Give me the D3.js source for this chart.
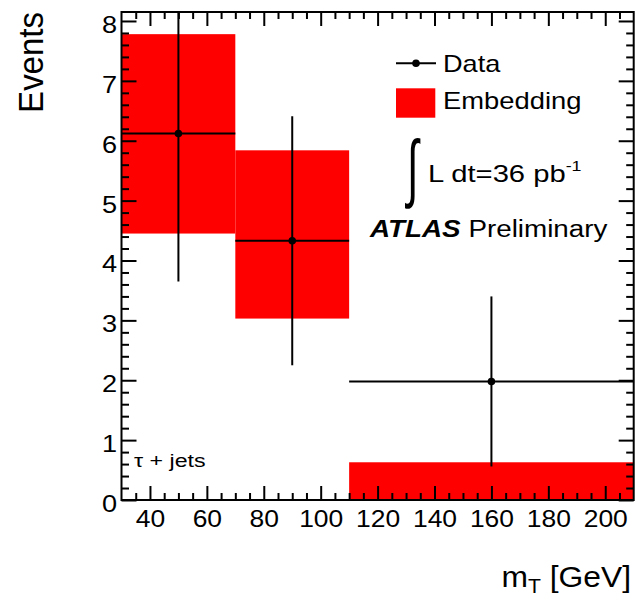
<!DOCTYPE html>
<html>
<head>
<meta charset="utf-8">
<script src="https://cdn.jsdelivr.net/npm/d3@7"></script>
<style>
  html, body { margin: 0; padding: 0; background: #fff; }
  svg { display: block; }
  text { font-family: "Liberation Sans", Arial, Helvetica, sans-serif; fill: #000; }
</style>
</head>
<body>
<svg id="chart" width="638" height="598"></svg>
<script>
// ---- data ----
const binEdges = [30, 70, 110, 210];
const binCenters = [50, 90, 160];
const dataValues = [6.12, 4.33, 1.98];
const dataErrors = [2.47, 2.08, 1.42];
const embLow = [4.45, 3.03, 0.0];
const embHigh = [7.78, 5.84, 0.63];
const xMajorTicks = [40, 60, 80, 100, 120, 140, 160, 180, 200];
const yMajorTicks = [0, 1, 2, 3, 4, 5, 6, 7, 8];
const xDomain = [30, 210];
const yDomain = [0, 8.15];

// ---- layout ----
const svg = d3.select("#chart");
const L = 121.5, R = 633.7, T = 12, B = 500;
const x = d3.scaleLinear().domain(xDomain).range([L, R]);
const y = d3.scaleLinear().domain(yDomain).range([B, T]);

// stretch text horizontally (reference glyphs are wider than Liberation Sans)
function stretch(sel, s) {
  sel.each(function () {
    const t = d3.select(this);
    const tx = +t.attr("x") || 0, ty = +t.attr("y") || 0;
    t.attr("x", 0).attr("y", 0).attr("transform", `translate(${tx},${ty}) scale(${s},1)`);
  });
}

svg.append("defs").append("clipPath").attr("id", "plotclip")
  .append("rect").attr("x", L).attr("y", T).attr("width", R - L).attr("height", B - T);

const plot = svg.append("g").attr("clip-path", "url(#plotclip)");

// Embedding bands
plot.selectAll("rect.emb")
  .data(embLow.map((lo, i) => ({ lo, hi: embHigh[i], x0: binEdges[i], x1: binEdges[i + 1] })))
  .join("rect")
  .attr("class", "emb")
  .attr("x", d => x(d.x0))
  .attr("width", d => x(d.x1) - x(d.x0))
  .attr("y", d => y(d.hi))
  .attr("height", d => y(d.lo) - y(d.hi))
  .attr("fill", "#ff0000");

// Data points with error bars
const pts = dataValues.map((v, i) => ({ v, e: dataErrors[i], c: binCenters[i], x0: binEdges[i], x1: binEdges[i + 1] }));
plot.selectAll("line.xerr").data(pts).join("line")
  .attr("x1", d => x(d.x0)).attr("x2", d => x(d.x1))
  .attr("y1", d => y(d.v)).attr("y2", d => y(d.v))
  .attr("stroke", "#000").attr("stroke-width", 2);
plot.selectAll("line.yerr").data(pts).join("line")
  .attr("x1", d => x(d.c)).attr("x2", d => x(d.c))
  .attr("y1", d => y(d.v - d.e)).attr("y2", d => y(d.v + d.e))
  .attr("stroke", "#000").attr("stroke-width", 2);
plot.selectAll("circle.pt").data(pts).join("circle")
  .attr("cx", d => x(d.c)).attr("cy", d => y(d.v)).attr("r", 3.8)
  .attr("fill", "#000");

// ---- axes ----
const xMinor = d3.range(30, 211, 5).filter(v => v % 20 !== 0 && v > 30 && v < 210);
const yMinor = d3.range(0, 8.15, 0.2).map(v => +v.toFixed(1)).filter(v => Math.abs(v - Math.round(v)) > 1e-6);

function styleAxis(g) {
  g.select(".domain").remove();
  g.selectAll(".tick line").attr("stroke", "#000").attr("stroke-width", 2);
}

// bottom
svg.append("g").attr("transform", `translate(0,${B})`)
  .call(d3.axisBottom(x).tickValues(xMajorTicks).tickSize(-14).tickSizeOuter(0).tickPadding(11).tickFormat(d3.format("d")))
  .call(styleAxis)
  .call(g => g.selectAll("text").attr("font-size", 23).attr("font-family", "Liberation Sans, Arial, sans-serif"))
  .call(g => stretch(g.selectAll("text"), 1.15));
svg.append("g").attr("transform", `translate(0,${B})`)
  .call(d3.axisBottom(x).tickValues(xMinor).tickSize(-7).tickSizeOuter(0).tickFormat(""))
  .call(styleAxis);
// top
svg.append("g").attr("transform", `translate(0,${T})`)
  .call(d3.axisTop(x).tickValues(xMajorTicks).tickSize(-14).tickSizeOuter(0).tickFormat(""))
  .call(styleAxis);
svg.append("g").attr("transform", `translate(0,${T})`)
  .call(d3.axisTop(x).tickValues(xMinor).tickSize(-7).tickSizeOuter(0).tickFormat(""))
  .call(styleAxis);
// left
svg.append("g").attr("transform", `translate(${L},0)`)
  .call(d3.axisLeft(y).tickValues(yMajorTicks).tickSize(-15).tickSizeOuter(0).tickPadding(4.5).tickFormat(d3.format("d")))
  .call(styleAxis)
  .call(g => g.selectAll("text").attr("font-size", 23).attr("dy", "0.5em").attr("font-family", "Liberation Sans, Arial, sans-serif"))
  .call(g => stretch(g.selectAll("text"), 1.18));
svg.append("g").attr("transform", `translate(${L},0)`)
  .call(d3.axisLeft(y).tickValues(yMinor).tickSize(-7.5).tickSizeOuter(0).tickFormat(""))
  .call(styleAxis);
// right
svg.append("g").attr("transform", `translate(${R},0)`)
  .call(d3.axisRight(y).tickValues(yMajorTicks).tickSize(-15).tickSizeOuter(0).tickFormat(""))
  .call(styleAxis);
svg.append("g").attr("transform", `translate(${R},0)`)
  .call(d3.axisRight(y).tickValues(yMinor).tickSize(-7.5).tickSizeOuter(0).tickFormat(""))
  .call(styleAxis);

// frame
svg.append("rect").attr("x", L).attr("y", T).attr("width", R - L).attr("height", B - T)
  .attr("fill", "none").attr("stroke", "#000").attr("stroke-width", 2);

// axis titles
svg.append("text")
  .attr("transform", "translate(43,12) rotate(-90) scale(1,1.06)")
  .attr("text-anchor", "end").attr("font-size", 33).text("Events");
const xt = svg.append("text").attr("x", 631).attr("y", 587).attr("text-anchor", "end").attr("font-size", 30);
xt.append("tspan").text("m");
xt.append("tspan").attr("font-size", 20).attr("dy", 6).text("T");
xt.append("tspan").attr("dy", -6).text(" [GeV]");
stretch(xt, 1.06);

// legend
svg.append("line").attr("x1", 396).attr("x2", 436).attr("y1", 63.3).attr("y2", 63.3)
  .attr("stroke", "#000").attr("stroke-width", 2);
svg.append("circle").attr("cx", 416).attr("cy", 63.3).attr("r", 3.8).attr("fill", "#000");
stretch(svg.append("text").attr("x", 443).attr("y", 72).attr("font-size", 23).text("Data"), 1.18);
svg.append("rect").attr("x", 396).attr("y", 88.3).attr("width", 39.3).attr("height", 29.4).attr("fill", "#ff0000");
stretch(svg.append("text").attr("x", 443).attr("y", 108.5).attr("font-size", 23).text("Embedding"), 1.19);

// luminosity
svg.append("text").attr("x", 0).attr("y", 0)
  .attr("transform", "translate(407,192.6) scale(0.8,1.44)")
  .attr("font-size", 52).attr("font-family", "Liberation Sans, sans-serif").text("\u222B");
const lum = svg.append("text").attr("x", 428).attr("y", 182).attr("font-size", 23);
lum.append("tspan").text("L dt=36 pb");
lum.append("tspan").attr("font-size", 14).attr("dy", -11).text("-1");
stretch(lum, 1.27);

// ATLAS Preliminary
const atl = svg.append("text").attr("x", 370).attr("y", 237).attr("font-size", 23);
atl.append("tspan").attr("font-weight", "bold").attr("font-style", "italic").text("ATLAS");
atl.append("tspan").text(" Preliminary");
stretch(atl, 1.21);

// channel label
stretch(svg.append("text").attr("x", 134).attr("y", 467).attr("font-size", 19).text("\u03C4 + jets"), 1.22);
</script>
</body>
</html>
